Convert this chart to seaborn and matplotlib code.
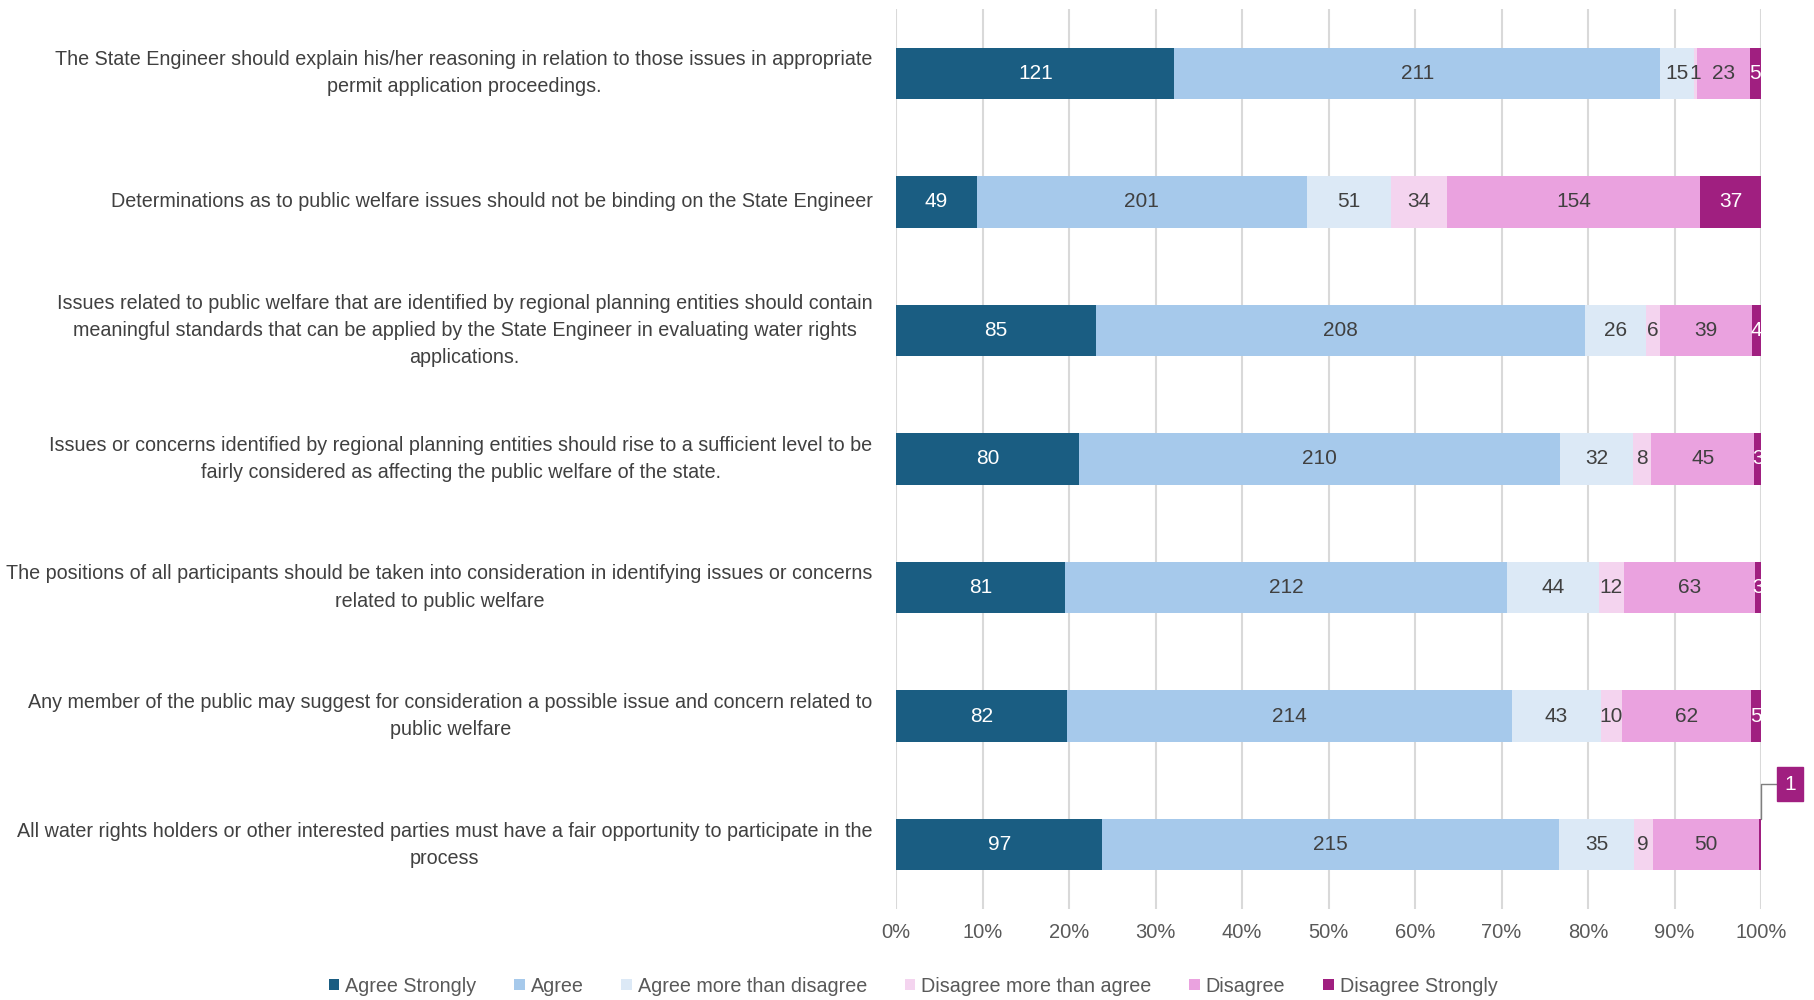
import matplotlib
matplotlib.use("Agg")
import matplotlib.pyplot as plt
from matplotlib.patches import Patch
import numpy as np
import pandas as pd
import seaborn as sns

# Survey statements (top to bottom) and response counts
statements = [
    "The State Engineer should explain his/her reasoning in relation to those issues in appropriate\npermit application proceedings.",
    "Determinations as to public welfare issues should not be binding on the State Engineer",
    "Issues related to public welfare that are identified by regional planning entities should contain\nmeaningful standards that can be applied by the State Engineer in evaluating water rights\napplications.",
    "Issues or concerns identified by regional planning entities should rise to a sufficient level to be\nfairly considered as affecting the public welfare of the state.",
    "The positions of all participants should be taken into consideration in identifying issues or concerns\nrelated to public welfare",
    "Any member of the public may suggest for consideration a possible issue and concern related to\npublic welfare",
    "All water rights holders or other interested parties must have a fair opportunity to participate in the\nprocess",
]
responses = ["Agree Strongly", "Agree", "Agree more than disagree",
             "Disagree more than agree", "Disagree", "Disagree Strongly"]

agree_strongly = [121, 49, 85, 80, 81, 82, 97]
agree = [211, 201, 208, 210, 212, 214, 215]
agree_more = [15, 51, 26, 32, 44, 43, 35]
disagree_more = [1, 34, 6, 8, 12, 10, 9]
disagree = [23, 154, 39, 45, 63, 62, 50]
disagree_strongly = [5, 37, 4, 3, 3, 5, 1]

colors = ["#1a5d82", "#a6c9eb", "#dce9f6", "#f4d4ef", "#eaa2df", "#a01f80"]
label_colors = ["white", "#404040", "#404040", "#404040", "#404040", "white"]

counts = pd.DataFrame(
    np.array([agree_strongly, agree, agree_more, disagree_more,
              disagree, disagree_strongly]).T,
    index=statements, columns=responses)
pct = counts.div(counts.sum(axis=1), axis=0) * 100
cum = pct.cumsum(axis=1)

sns.set_theme(style="white")
plt.rcParams["font.family"] = ["Liberation Sans", "DejaVu Sans"]

fig = plt.figure(figsize=(18.15, 10), dpi=100)
ax = fig.add_axes([0.4937, 0.091, 0.4766, 0.900])

# Stacked bars: draw cumulative widths from the outermost segment inward
for i in range(len(responses) - 1, -1, -1):
    df = pd.DataFrame({"statement": statements, "value": cum.iloc[:, i].values})
    sns.barplot(data=df, x="value", y="statement", orient="h", color=colors[i],
                saturation=1, width=0.4, ax=ax, linewidth=0, zorder=3)

# Segment count labels
for r, stmt in enumerate(statements):
    for i, resp in enumerate(responses):
        n = counts.loc[stmt, resp]
        if stmt == statements[-1] and resp == "Disagree Strongly":
            continue
        center = cum.loc[stmt, resp] - pct.loc[stmt, resp] / 2
        ax.text(center, r, str(n), ha="center", va="center", fontsize=15,
                color=label_colors[i], zorder=5)

# Callout for the tiny final segment of the last statement
last = statements[-1]
ax.annotate(str(counts.loc[last, "Disagree Strongly"]),
            xy=(cum.loc[last, "Disagree Strongly"], len(statements) - 1 - 0.2),
            xytext=(21, 25), textcoords="offset points",
            ha="center", va="center", fontsize=15, color="white",
            bbox=dict(boxstyle="square,pad=0.35", fc=colors[5], ec=colors[5]),
            arrowprops=dict(arrowstyle="-", color="#7f7f7f", lw=1,
                            connectionstyle="angle,angleA=0,angleB=90,rad=0",
                            shrinkA=0, shrinkB=0),
            annotation_clip=False, zorder=6)

ax.set_xlim(0, 100)
ax.set_ylim(len(statements) - 0.5, -0.5)
ax.set_xticks(np.arange(0, 101, 10))
ax.set_xticklabels([f"{t}%" for t in range(0, 101, 10)], fontsize=14.5, color="#595959")
ax.set_yticks(range(len(statements)))
ax.set_yticklabels(statements, fontsize=14.2, color="#404040",
                   multialignment="center", linespacing=1.55)
for t in ax.get_yticklabels():
    t.set_verticalalignment("center")
ax.tick_params(axis="y", length=0, pad=17)
ax.tick_params(axis="x", length=0, pad=10)
ax.set_xlabel("")
ax.set_ylabel("")
ax.grid(axis="x", color="#d9d9d9", linewidth=1.5, zorder=0)
ax.grid(axis="y", visible=False)
for s in ax.spines.values():
    s.set_visible(False)

handles = [Patch(facecolor=c, edgecolor="none") for c in colors]
fig.legend(handles, responses, loc="center", bbox_to_anchor=(0.503, 0.014),
           ncol=6, frameon=False, fontsize=14.2, handlelength=0.55,
           handleheight=0.55, handletextpad=0.3, columnspacing=1.9,
           labelcolor="#595959")

fig.savefig("out.png", dpi=100, facecolor="white")
